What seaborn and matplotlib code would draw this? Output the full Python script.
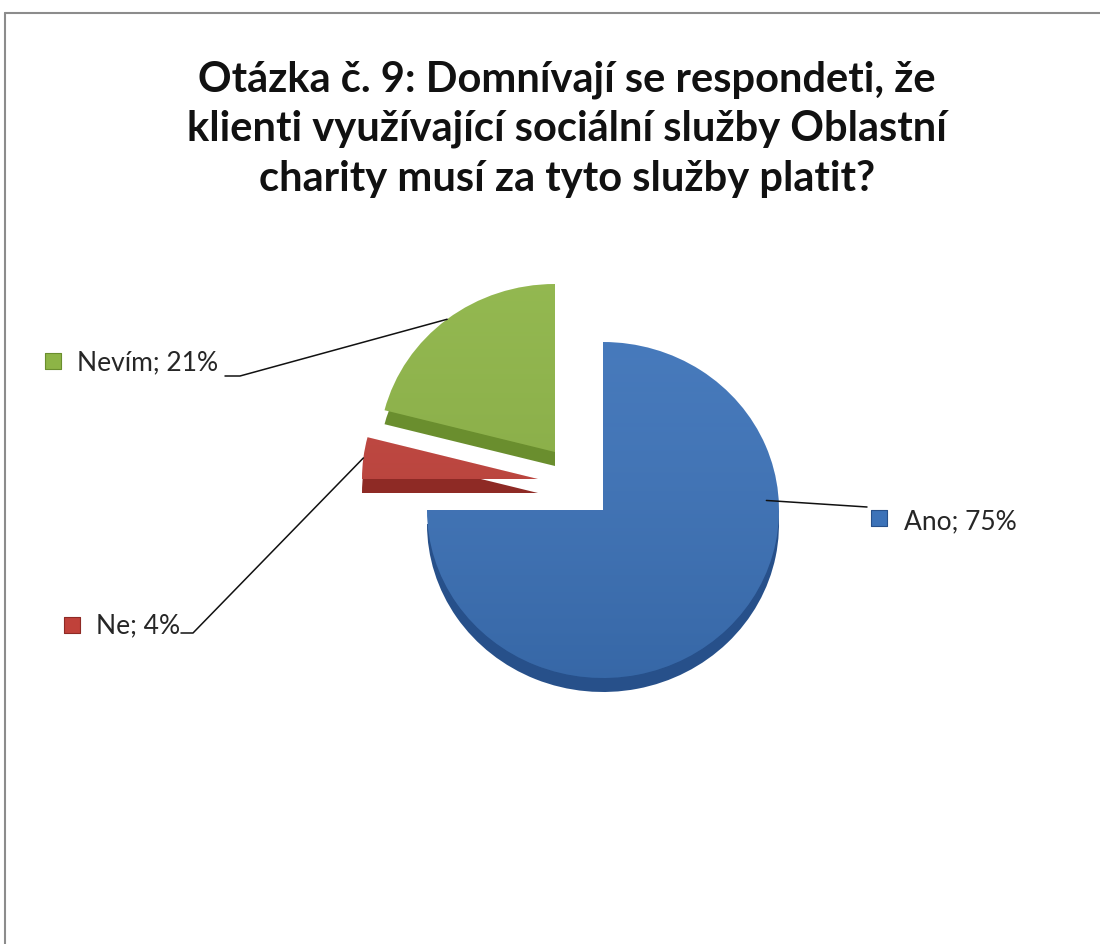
import matplotlib
matplotlib.use("Agg")
import matplotlib.pyplot as plt
import seaborn as sns
import numpy as np
from matplotlib.transforms import Affine2D
from matplotlib.lines import Line2D

# ---- data ----
categories = ["Ano", "Ne", "Nevím"]
values = [75, 4, 21]
labels = ["Ano; 75%", "Ne; 4%", "Nevím; 21%"]
title = ("Otázka č. 9: Domnívají se respondeti, že\n"
         "klienti využívající sociální služby Oblastní\n"
         "charity musí za tyto služby platit?")

# ---- style ----
sns.set_theme(style="white")
plt.rcParams['font.family'] = ['Lato', 'DejaVu Sans']

top_colors = ["#3C72B8", "#C0413A", "#8DB446"]
side_colors = ["#27508A", "#8E2A25", "#6A8E2E"]

W, H = 1100, 944
CX, CY = 603, 510          # pie centre in pixels
SX, SY = 176.0, 168.0      # pixels per radius unit (slight tilt)
DEPTH_PX = 14

def ux(x):
    return (x - CX) / SX

def uy(y):
    return (CY - y) / SY

# slice shifts (pixels, y up) for exploded slices
shift_px = {"Ano": (0, 0), "Ne": (-65, 31), "Nevím": (-48, 58)}

fig = plt.figure(figsize=(W / 100, H / 100), dpi=100)
fig.patch.set_facecolor("white")
ax = fig.add_axes([0, 0, 1, 1])

def shifted(cat, extra_dy=0.0):
    dx, dy = shift_px[cat]
    return Affine2D().translate(dx / SX, dy / SY + extra_dy) + ax.transData

# depth layer
side_wedges, _ = ax.pie(values, colors=side_colors, startangle=90,
                        counterclock=False, radius=1.0, center=(0, 0),
                        wedgeprops=dict(linewidth=0))
for w, cat in zip(side_wedges, categories):
    w.set_transform(shifted(cat, -DEPTH_PX / SY))

# top layer
top_wedges, _ = ax.pie(values, colors=top_colors, startangle=90,
                       counterclock=False, radius=1.0, center=(0, 0),
                       wedgeprops=dict(linewidth=0))
for w, cat in zip(top_wedges, categories):
    w.set_transform(shifted(cat))

# subtle gradient shading on top faces
grad = np.linspace(0, 1, 256).reshape(-1, 1)
shade = matplotlib.colors.LinearSegmentedColormap.from_list(
    "g", [(1, 1, 1, 0.06), (0, 0, 0, 0.10)])
for w, cat in zip(top_wedges, categories):
    dx, dy = shift_px[cat]
    ox, oy = dx / SX, dy / SY
    im = ax.imshow(grad, extent=(-1.05 + ox, 1.05 + ox, -1.05 + oy, 1.05 + oy),
                   cmap=shade, origin="upper", aspect="auto",
                   zorder=w.get_zorder() + 0.1)
    im.set_clip_path(w)

ax.set_xlim(ux(0), ux(W))
ax.set_ylim(uy(H), uy(0))
ax.set_aspect("auto")
ax.axis("off")

# ---- labels ----
label_pos = {"Ano": (904, 522), "Ne": (96, 626), "Nevím": (77, 363)}
marker_pos = {"Ano": (879, 518), "Ne": (72, 625), "Nevím": (53, 361)}
for cat, lab, col, scol in zip(categories, labels, top_colors, side_colors):
    tx, ty = label_pos[cat]
    ax.text(ux(tx), uy(ty), lab, ha="left", va="center", fontsize=19,
            color="#262626")
    mx, my = marker_pos[cat]
    ax.scatter([ux(mx)], [uy(my)], marker="s", s=130, color=col,
               edgecolors=scol, linewidths=0.8, zorder=5)

# ---- leader lines ----
anchor_deg = {"Ano": 3.5}
anchor_r = {"Ano": 0.93, "Ne": 1.0, "Nevím": 1.0}
leader_start = {"Ano": [(867, 507)],
                "Ne": [(181, 633), (193, 633)],
                "Nevím": [(225, 376), (240, 376)]}
for w, cat in zip(top_wedges, categories):
    th = anchor_deg.get(cat, 0.5 * (w.theta1 + w.theta2))
    dx, dy = shift_px[cat]
    r = anchor_r[cat]
    axx = w.center[0] + dx / SX + r * np.cos(np.radians(th))
    ayy = w.center[1] + dy / SY + r * np.sin(np.radians(th))
    pts = [(ux(x), uy(y)) for x, y in leader_start[cat]] + [(axx, ayy)]
    xs, ys = zip(*pts)
    ax.plot(xs, ys, color="#111111", lw=1.1, zorder=6)

# ---- title ----
fig.text(567 / W, 1 - 129 / H, title, ha="center", va="center", fontsize=30,
         fontweight="bold", color="#111111", linespacing=1.36)

# ---- chart frame (top and left visible) ----
fig.add_artist(Line2D([5 / W, 1.0], [1 - 13 / H, 1 - 13 / H],
                      color="#8c8c8c", lw=1.5, transform=fig.transFigure))
fig.add_artist(Line2D([5 / W, 5 / W], [0, 1 - 13 / H],
                      color="#8c8c8c", lw=1.5, transform=fig.transFigure))

fig.savefig("out.png", dpi=100, facecolor="white")
